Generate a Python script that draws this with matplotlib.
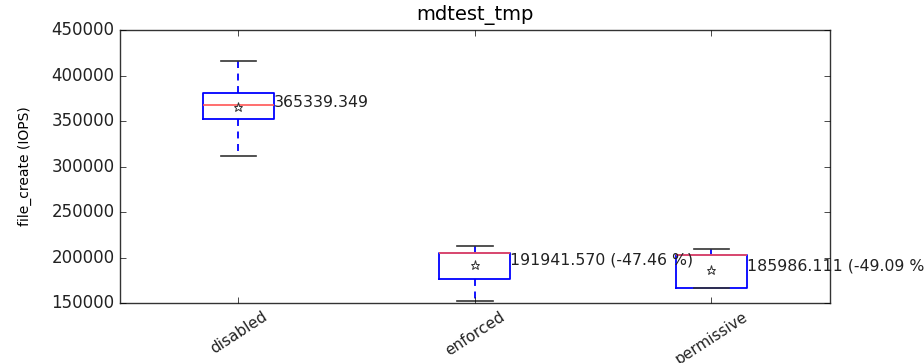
import matplotlib
matplotlib.use("Agg")
import matplotlib.pyplot as plt

plt.style.use('classic')

categories = ["disabled", "enforced", "permissive"]
whislo = [312000, 152200, 166800]
q1 = [352500, 176700, 166800]
med = [368000, 205300, 203000]
q3 = [381000, 205300, 203000]
whishi = [416000, 212600, 209000]
means = [365339.349, 191941.570, 185986.111]
yticks = [150000, 200000, 250000, 300000, 350000, 400000, 450000]

fig = plt.figure(figsize=(9.24, 3.63), dpi=100)
fig.patch.set_facecolor('white')
ax = fig.add_axes([0.130, 0.165, 0.768, 0.752])

stats = []
for i, c in enumerate(categories):
    stats.append(dict(label=c, whislo=whislo[i], q1=q1[i], med=med[i], q3=q3[i],
                      whishi=whishi[i], mean=means[i], fliers=[]))

ax.bxp(stats, positions=[1, 2, 3], widths=0.3, showmeans=True,
       boxprops=dict(color='b', linewidth=1.3),
       whiskerprops=dict(color='b', linestyle='--', linewidth=1.3, dashes=(5, 4)),
       capprops=dict(color='#333333', linewidth=1.2),
       medianprops=dict(color='#ff5555', linewidth=1.2),
       meanprops=dict(marker='*', markerfacecolor='white', markeredgecolor='#333333',
                      markersize=6.5, markeredgewidth=0.7))

base = means[0]
for i, m in enumerate(means):
    if i == 0:
        label = "%.3f" % m
    else:
        label = "%.3f (%.2f %%)" % (m, (m - base) / base * 100)
    ax.text(i + 1 + 0.15, m, label, ha='left', va='baseline', fontsize=11.3,
            color='#222222', clip_on=False)

ax.set_xlim(0.5, 3.5)
ax.set_ylim(150000, 450000)
ax.set_yticks(yticks)
ax.set_yticklabels([str(v) for v in yticks], fontsize=12, color='#222222')
ax.set_xticks([1, 2, 3])
ax.set_xticklabels(categories, rotation=33, fontsize=11, color='#222222')
ax.set_ylabel("file_create (IOPS)", fontsize=10, labelpad=14)
ax.set_title("mdtest_tmp", fontsize=14, y=1.01)
for s in ax.spines.values():
    s.set_color('#333333')

fig.savefig("out.png", dpi=100, facecolor='white')
